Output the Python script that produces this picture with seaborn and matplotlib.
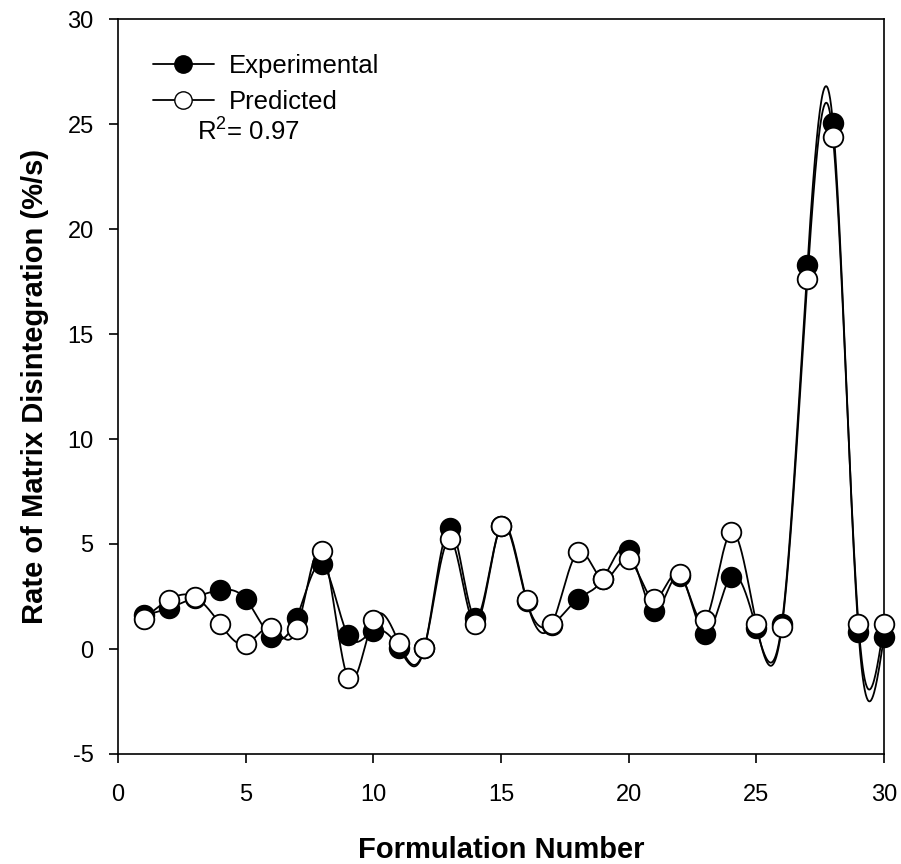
import numpy as np
import pandas as pd
import matplotlib
matplotlib.use("Agg")
import matplotlib.pyplot as plt
from matplotlib.lines import Line2D
import seaborn as sns

# Data
formulation = list(range(1, 31))
experimental = [1.60, 1.95, 2.45, 2.80, 2.38, 0.59, 1.49, 4.03, 0.67, 0.86,
                0.05, 0.05, 5.78, 1.46, 5.85, 2.30, 1.15, 2.37, 3.35, 4.71,
                1.81, 3.50, 0.70, 3.44, 0.98, 1.20, 18.29, 25.05, 0.83, 0.59]
predicted = [1.42, 2.35, 2.49, 1.19, 0.22, 1.01, 0.94, 4.68, -1.37, 1.38,
             0.30, 0.06, 5.22, 1.18, 5.86, 2.33, 1.19, 4.60, 3.32, 4.27,
             2.38, 3.57, 1.38, 5.56, 1.19, 1.05, 17.60, 24.40, 1.19, 1.19]


def natural_spline(x, y, n=1500):
    # natural cubic spline curve through the points (drawing only)
    x = np.asarray(x, float)
    y = np.asarray(y, float)
    k = len(x)
    h = np.diff(x)
    A = np.zeros((k, k))
    b = np.zeros(k)
    A[0, 0] = A[-1, -1] = 1
    for i in range(1, k - 1):
        A[i, i - 1] = h[i - 1]
        A[i, i] = 2 * (h[i - 1] + h[i])
        A[i, i + 1] = h[i]
        b[i] = 6 * ((y[i + 1] - y[i]) / h[i] - (y[i] - y[i - 1]) / h[i - 1])
    m = np.linalg.solve(A, b)
    xs = np.linspace(x[0], x[-1], n)
    idx = np.clip(np.searchsorted(x, xs) - 1, 0, k - 2)
    x0, x1 = x[idx], x[idx + 1]
    hh = x1 - x0
    t0, t1 = x1 - xs, xs - x0
    ys = (m[idx] * t0 ** 3 + m[idx + 1] * t1 ** 3) / (6 * hh) \
        + (y[idx] / hh - m[idx] * hh / 6) * t0 \
        + (y[idx + 1] / hh - m[idx + 1] * hh / 6) * t1
    return xs, ys


df = pd.DataFrame({"Formulation": formulation,
                   "Experimental": experimental,
                   "Predicted": predicted})

sns.set_style("ticks")
plt.rcParams["font.family"] = ["Liberation Sans", "DejaVu Sans"]
plt.rcParams["axes.unicode_minus"] = False
plt.rcParams["mathtext.fontset"] = "custom"
plt.rcParams["mathtext.rm"] = "Liberation Sans"
plt.rcParams["mathtext.it"] = "Liberation Sans:italic"
for key in ["text.color", "axes.labelcolor", "xtick.color", "ytick.color",
            "axes.edgecolor"]:
    plt.rcParams[key] = "black"

fig = plt.figure(figsize=(9.01, 8.64), dpi=100)
ax = fig.add_axes([118 / 901, 1 - 754 / 864, 766 / 901, 735 / 864])

xe, ye = natural_spline(df["Formulation"], df["Experimental"])
xp, yp = natural_spline(df["Formulation"], df["Predicted"])
sns.lineplot(x=xe, y=ye, ax=ax, color="black", lw=1.3, sort=False, zorder=2)
sns.lineplot(x=xp, y=yp, ax=ax, color="black", lw=1.3, sort=False, zorder=2)

sns.scatterplot(data=df, x="Formulation", y="Experimental", ax=ax, s=200,
                color="black", edgecolor="black", linewidth=1.3, zorder=3,
                clip_on=False)
sns.scatterplot(data=df, x="Formulation", y="Predicted", ax=ax, s=200,
                color="white", edgecolor="black", linewidth=1.3, zorder=4,
                clip_on=False)

ax.set_xlim(0, 30)
ax.set_ylim(-5, 30)
ax.set_xticks(range(0, 31, 5))
ax.set_yticks(range(-5, 31, 5))
ax.tick_params(axis="both", labelsize=17, length=6.5, width=1.2,
               direction="out", color="black", labelcolor="black",
               top=False, right=False)
ax.tick_params(axis="x", pad=15)
ax.tick_params(axis="y", pad=11)
for s in ax.spines.values():
    s.set_linewidth(1.2)
    s.set_color("black")
    s.set_visible(True)

ax.set_xlabel("Formulation Number", fontsize=21, fontweight="bold",
              labelpad=22)
ax.set_ylabel("Rate of Matrix Disintegration (%/s)", fontsize=21,
              fontweight="bold", labelpad=13)

handles = [
    Line2D([0], [0], color="black", lw=1.3, marker="o", markersize=12.5,
           markerfacecolor="black", markeredgecolor="black"),
    Line2D([0], [0], color="black", lw=1.3, marker="o", markersize=12.5,
           markerfacecolor="white", markeredgecolor="black"),
]
ax.legend(handles, ["Experimental", "Predicted"], loc="upper left",
          bbox_to_anchor=(0.046, 0.953), frameon=False, fontsize=18.5,
          handlelength=2.35, handletextpad=0.6, labelspacing=0.5,
          borderaxespad=0, borderpad=0, labelcolor="black")
ax.text(0.103, 0.846, r"R$^2$= 0.97", transform=ax.transAxes, fontsize=18.5,
        va="center", ha="left", color="black")

fig.savefig("out.png", dpi=100)
